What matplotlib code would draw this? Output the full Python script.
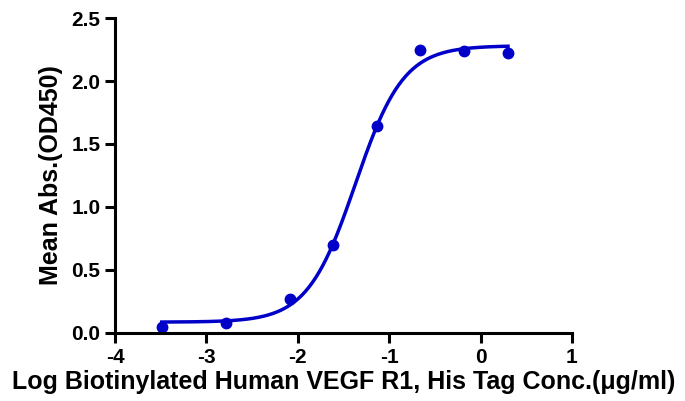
import numpy as np
import matplotlib
matplotlib.use('Agg')
import matplotlib.pyplot as plt

plt.rcParams['font.family'] = ['Liberation Sans', 'DejaVu Sans']
plt.rcParams['font.weight'] = 'bold'
plt.rcParams['axes.unicode_minus'] = False

# measured points
log_conc = [-3.49, -2.79, -2.09, -1.61, -1.13, -0.66, -0.18, 0.30]
mean_abs = [0.05, 0.08, 0.27, 0.70, 1.64, 2.25, 2.24, 2.22]

# 4PL fit parameters
bottom = 0.085
top = 2.28
log_ec50 = -1.37
hill = 1.65

xfit = np.linspace(min(log_conc), max(log_conc), 300)
yfit = bottom + (top - bottom) / (1 + 10 ** ((log_ec50 - xfit) * hill))

fig = plt.figure(figsize=(6.85, 4.01), dpi=100)
ax = fig.add_axes([0.168, 0.170, 0.667, 0.785])

blue = '#0000C8'
ax.plot(xfit, yfit, color=blue, lw=2.5)
ax.plot(log_conc, mean_abs, 'o', color=blue, ms=7.5)

ax.set_xlim(-4, 1)
ax.set_ylim(0, 2.5)
ax.set_xticks([-4, -3, -2, -1, 0, 1])
ax.set_yticks([0.0, 0.5, 1.0, 1.5, 2.0, 2.5])
ax.set_yticklabels(['0.0', '0.5', '1.0', '1.5', '2.0', '2.5'])

for s in ['top', 'right']:
    ax.spines[s].set_visible(False)
for s in ['left', 'bottom']:
    ax.spines[s].set_linewidth(2.2)
ax.tick_params(width=2.2, length=7, labelsize=15)
ax.tick_params(axis='x', pad=4)

ax.set_xlabel('Log Biotinylated Human VEGF R1, His Tag Conc.(μg/ml)', fontsize=18, fontweight='bold', labelpad=2)
ax.set_ylabel('Mean Abs.(OD450)', fontsize=18, fontweight='bold', labelpad=6)

fig.savefig('out.png', dpi=100)
